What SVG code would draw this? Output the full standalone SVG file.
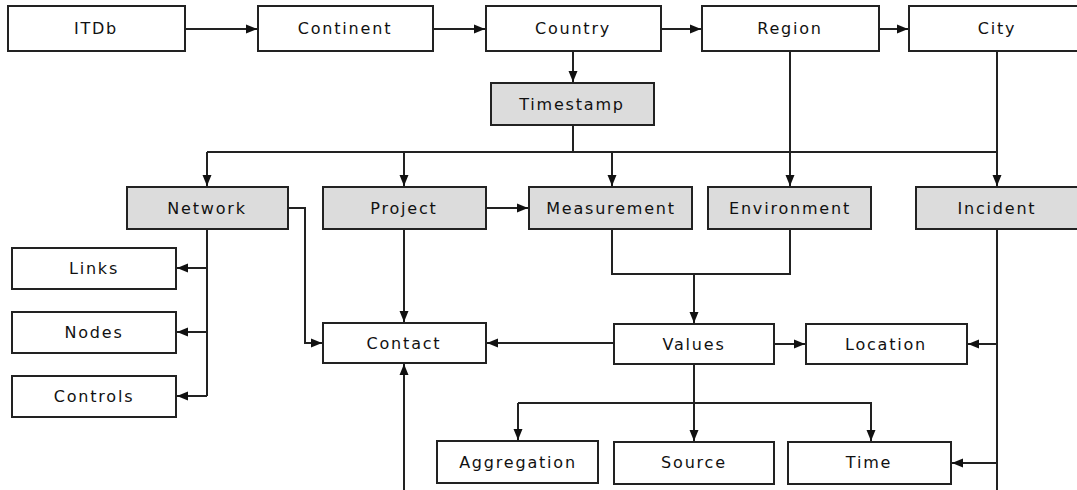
<svg xmlns="http://www.w3.org/2000/svg" width="1077" height="490" viewBox="0 0 1077 490">
<style>
.b{fill:#fff;stroke:#222;stroke-width:2}
.g{fill:#dcdcdc;stroke:#222;stroke-width:2}
.t{font-family:"DejaVu Sans",sans-serif;font-size:16px;letter-spacing:1.8px;fill:#111;text-anchor:middle}
.c{fill:none;stroke:#222;stroke-width:2}
</style>
<defs>
<marker id="a" markerWidth="12" markerHeight="10" refX="11" refY="5" orient="auto" markerUnits="userSpaceOnUse">
<path d="M0,0.5 L11,5 L0,9.5 Z" fill="#111"/>
</marker>
</defs>
<rect width="1077" height="490" fill="#fff"/>
<g id="connectors">
<path class="c" d="M185,29 H257" marker-end="url(#a)"/>
<path class="c" d="M433,29 H485" marker-end="url(#a)"/>
<path class="c" d="M661,29 H701" marker-end="url(#a)"/>
<path class="c" d="M879,29 H908" marker-end="url(#a)"/>
<path class="c" d="M573,51 V82" marker-end="url(#a)"/>
<path class="c" d="M573,125 V152"/>
<path class="c" d="M207,152 H997"/>
<path class="c" d="M404,152 V186" marker-end="url(#a)"/>
<path class="c" d="M207,152 V186" marker-end="url(#a)"/>
<path class="c" d="M612,152 V186" marker-end="url(#a)"/>
<path class="c" d="M790,51 V186" marker-end="url(#a)"/>
<path class="c" d="M997,51 V186" marker-end="url(#a)"/>
<path class="c" d="M486,208 H528" marker-end="url(#a)"/>
<path class="c" d="M207,229 V396"/>
<path class="c" d="M207,268 H177" marker-end="url(#a)"/>
<path class="c" d="M207,332 H177" marker-end="url(#a)"/>
<path class="c" d="M207,396 H177" marker-end="url(#a)"/>
<path class="c" d="M288,208 H305 V343 H322" marker-end="url(#a)"/>
<path class="c" d="M404,229 V322" marker-end="url(#a)"/>
<path class="c" d="M614,343 H487" marker-end="url(#a)"/>
<path class="c" d="M404,490 V364" marker-end="url(#a)"/>
<path class="c" d="M612,229 V274 H790 V229"/>
<path class="c" d="M694,274 V323" marker-end="url(#a)"/>
<path class="c" d="M774,344 H805" marker-end="url(#a)"/>
<path class="c" d="M997,229 V490"/>
<path class="c" d="M997,344 H968" marker-end="url(#a)"/>
<path class="c" d="M997,463 H952" marker-end="url(#a)"/>
<path class="c" d="M694,364 V441" marker-end="url(#a)"/>
<path class="c" d="M518,403 H871 V441" marker-end="url(#a)"/>
<path class="c" d="M518,403 V440" marker-end="url(#a)"/>
</g>
<g id="itdb"><rect class="b" x="8" y="6" width="177" height="45"/><text class="t" x="96" y="34">ITDb</text></g>
<g id="continent"><rect class="b" x="258" y="6" width="175" height="45"/><text class="t" x="345" y="34">Continent</text></g>
<g id="country"><rect class="b" x="486" y="6" width="175" height="45"/><text class="t" x="573" y="34">Country</text></g>
<g id="region"><rect class="b" x="702" y="6" width="177" height="45"/><text class="t" x="790" y="34">Region</text></g>
<g id="city"><rect class="b" x="909" y="6" width="177" height="45"/><text class="t" x="997" y="34">City</text></g>
<g id="timestamp"><rect class="g" x="491" y="83" width="163" height="42"/><text class="t" x="572" y="110">Timestamp</text></g>
<g id="network"><rect class="g" x="127" y="187" width="161" height="42"/><text class="t" x="207" y="214">Network</text></g>
<g id="project"><rect class="g" x="323" y="187" width="163" height="42"/><text class="t" x="404" y="214">Project</text></g>
<g id="measurement"><rect class="g" x="529" y="187" width="163" height="42"/><text class="t" x="611" y="214">Measurement</text></g>
<g id="environment"><rect class="g" x="708" y="187" width="163" height="42"/><text class="t" x="790" y="214">Environment</text></g>
<g id="incident"><rect class="g" x="916" y="187" width="162" height="42"/><text class="t" x="997" y="214">Incident</text></g>
<g id="links"><rect class="b" x="12" y="248" width="164" height="41"/><text class="t" x="94" y="274">Links</text></g>
<g id="nodes"><rect class="b" x="12" y="312" width="164" height="41"/><text class="t" x="94" y="338">Nodes</text></g>
<g id="controls"><rect class="b" x="12" y="376" width="164" height="41"/><text class="t" x="94" y="402">Controls</text></g>
<g id="contact"><rect class="b" x="323" y="323" width="163" height="40"/><text class="t" x="404" y="349">Contact</text></g>
<g id="values"><rect class="b" x="614" y="324" width="160" height="40"/><text class="t" x="694" y="350">Values</text></g>
<g id="location"><rect class="b" x="806" y="324" width="161" height="40"/><text class="t" x="886" y="350">Location</text></g>
<g id="aggregation"><rect class="b" x="437" y="441" width="161" height="42"/><text class="t" x="518" y="468">Aggregation</text></g>
<g id="source"><rect class="b" x="614" y="442" width="160" height="42"/><text class="t" x="694" y="468">Source</text></g>
<g id="time"><rect class="b" x="788" y="442" width="163" height="42"/><text class="t" x="869" y="468">Time</text></g>
</svg>
